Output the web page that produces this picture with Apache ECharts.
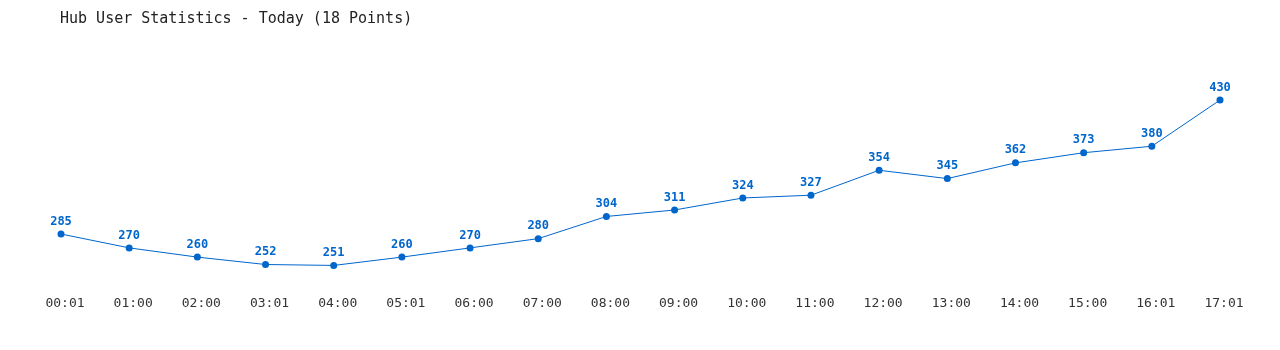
<!DOCTYPE html>
<html>
<head>
<meta charset="utf-8">
<script src="https://cdn.jsdelivr.net/npm/echarts@6/dist/echarts.min.js"></script>
<style>
html,body{margin:0;padding:0;background:#fff;}
#chart{width:1280px;height:350px;}
</style>
</head>
<body>
<div id="chart"></div>
<script>
const categories = ["00:01","01:00","02:00","03:01","04:00","05:01","06:00","07:00","08:00","09:00","10:00","11:00","12:00","13:00","14:00","15:00","16:01","17:01"];
const users = [285,270,260,252,251,260,270,280,304,311,324,327,354,345,362,373,380,430];
const titleText = "Hub User Statistics - Today (18 Points)";

const chart = echarts.init(document.getElementById('chart'));
chart.setOption({
  animation: false,
  backgroundColor: '#ffffff',
  title: {
    text: titleText,
    left: 55,
    top: 7,
    textStyle: {fontFamily: 'DejaVu Sans Mono', fontSize: 15, fontWeight: 'normal', color: '#222'}
  },
  grid: {left: 61, right: 60, top: 90.8, bottom: 74.4, containLabel: false},
  xAxis: {
    type: 'category',
    data: categories,
    boundaryGap: false,
    axisLine: {show: false},
    axisTick: {show: false},
    splitLine: {show: false},
    axisLabel: {fontFamily: 'DejaVu Sans Mono', fontSize: 13, color: '#333', margin: 22, interval: 0, padding: [0, 0, 0, 8]}
  },
  yAxis: {
    type: 'value',
    min: 240,
    max: 440,
    show: false,
    splitLine: {show: false}
  },
  series: [{
    type: 'line',
    data: users,
    symbol: 'circle',
    symbolSize: 7,
    lineStyle: {color: '#0066cc', width: 1},
    itemStyle: {color: '#0066cc'},
    label: {
      show: true,
      position: 'top',
      distance: 3,
      fontFamily: 'DejaVu Sans Mono',
      fontSize: 12,
      fontWeight: 'bold',
      color: '#0066cc'
    }
  }]
});
</script>
</body>
</html>
